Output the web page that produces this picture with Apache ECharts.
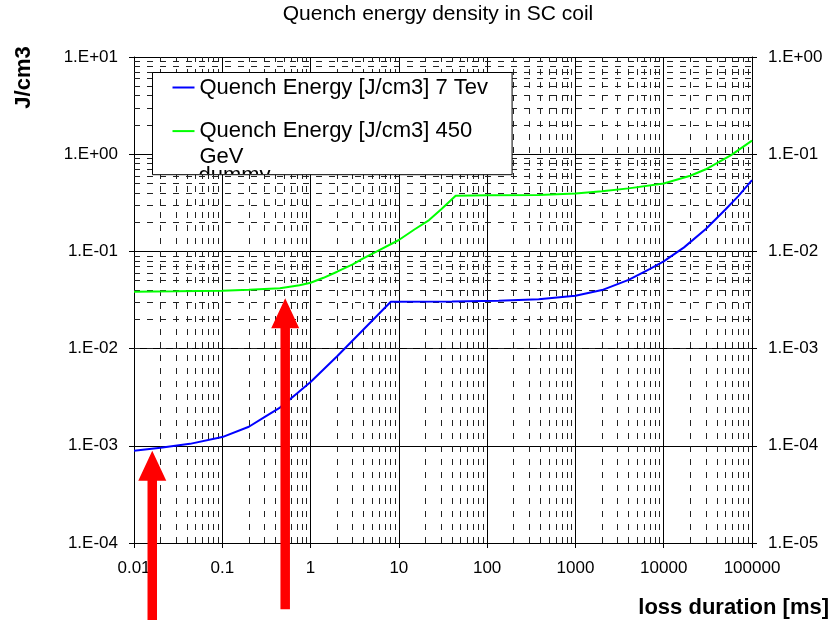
<!DOCTYPE html>
<html><head><meta charset="utf-8">
<script src="https://cdn.jsdelivr.net/npm/echarts@6/dist/echarts.min.js"></script>
<style>html,body{margin:0;padding:0;background:#fff}#c{width:832px;height:620px}</style>
</head><body><div id="c"></div>
<script>
// ---- data ----
const seriesNames = ['Quench Energy [J/cm3] 7 Tev', 'Quench Energy [J/cm3] 450 GeV', 'dummy'];
const blueX = [0.01, 0.02, 0.043, 0.1, 0.2, 0.3, 0.45, 0.7, 1, 2, 4, 8.1, 40, 135, 384, 1000, 2000, 4000, 7000, 10000, 17000, 30000, 50000, 70000, 100000];
const blueY = [8.9e-4, 9.55e-4, 1.047e-3, 1.23e-3, 1.57e-3, 1.97e-3, 2.47e-3, 3.45e-3, 4.53e-3, 8.34e-3, 1.58e-2, 3.03e-2, 3.05e-2, 3.11e-2, 3.21e-2, 3.5e-2, 4.0e-2, 5.1e-2, 6.6e-2, 7.9e-2, 0.110, 0.170, 0.27, 0.37, 0.54];
const greenX = [0.01, 0.03, 0.1, 0.2, 0.45, 0.75, 1, 1.4, 2, 3, 3.9, 5.5, 10, 15, 22, 30, 44, 100, 384, 1000, 2000, 4000, 10000, 20000, 30000, 58000, 100000];
const greenY = [0.0385, 0.0388, 0.0394, 0.0402, 0.0417, 0.0448, 0.0476, 0.0535, 0.0618, 0.0735, 0.0843, 0.099, 0.131, 0.168, 0.21, 0.27, 0.374, 0.378, 0.38, 0.395, 0.415, 0.445, 0.50, 0.60, 0.70, 0.98, 1.38];
const xTickValues = [0.01, 0.1, 1, 10, 100, 1000, 10000, 100000];
const xTickLabels = ['0.01', '0.1', '1', '10', '100', '1000', '10000', '100000'];
const yLeftTickValues = [1e-4, 1e-3, 1e-2, 1e-1, 1, 10];
const yLeftTickLabels = ['1.E-04', '1.E-03', '1.E-02', '1.E-01', '1.E+00', '1.E+01'];
const yRightTickValues = [1e-5, 1e-4, 1e-3, 1e-2, 1e-1, 1];
const yRightTickLabels = ['1.E-05', '1.E-04', '1.E-03', '1.E-02', '1.E-01', '1.E+00'];
const minorSteps = [2, 3, 4, 5, 6, 7, 8, 9];
const arrowTips = [[0.0161, 8.9e-4], [0.516, 0.033]];
const titleText = 'Quench energy density in SC coil';
const xName = 'loss duration [ms]';
const yName = 'J/cm3';

// ---- helpers ----
const FONT = '"Liberation Sans", Arial, sans-serif';
function labeler(values, labels) {
  return function (v) {
    const i = values.findIndex(t => Math.abs(Math.log10(t) - Math.log10(v)) < 1e-6);
    return i >= 0 ? labels[i] : '';
  };
}
function zip(xs, ys) { return xs.map((x, i) => [x, ys[i]]); }
const xMinor = [];
xTickValues.slice(0, -1).forEach(d => minorSteps.forEach(m => xMinor.push(d * m)));
const yMinor = [];
yLeftTickValues.slice(0, -1).forEach(d => minorSteps.forEach(m => yMinor.push(d * m)));

// legend box geometry (pixels)
const LEG = {left: 152.5, top: 72.5, padL: 19, padR: 24, padT: 4, padB: 7, itemW: 22};

const chart = echarts.init(document.getElementById('c'), null, {renderer: 'canvas'});
const option = {
  animation: false,
  backgroundColor: '#fff',
  title: {
    text: titleText, left: 438, top: 4, textAlign: 'center', padding: 0,
    textStyle: {fontSize: 21, fontWeight: 'normal', color: '#000', fontFamily: FONT}
  },
  grid: {left: 134, top: 57, right: 78, bottom: 77, containLabel: false},
  legend: {
    orient: 'vertical',
    left: LEG.left, top: LEG.top,
    padding: [LEG.padT, LEG.padR, LEG.padB, LEG.padL],
    itemWidth: LEG.itemW, itemHeight: 14, itemGap: 21.1,
    backgroundColor: '#fff', borderColor: '#000', borderWidth: 1, borderRadius: 0,
    selectedMode: false,
    itemStyle: {opacity: 0},
    data: [seriesNames[0], seriesNames[1]],
    formatter: function (name) {
      if (name === seriesNames[1]) {
        const k = name.lastIndexOf(' ');
        return '{a|' + name.slice(0, k) + '}\n{b|' + name.slice(k + 1) + '}';
      }
      return name;
    },
    textStyle: {
      fontSize: 22, color: '#000', fontFamily: FONT,
      rich: {
        a: {fontSize: 22, color: '#000', fontFamily: FONT, lineHeight: 30.2},
        b: {fontSize: 22, color: '#000', fontFamily: FONT, lineHeight: 1, verticalAlign: 'top'}
      }
    }
  },
  xAxis: {
    type: 'log', logBase: 10, min: 0.01, max: 100000,
    name: xName, nameLocation: 'end', nameGap: 77, nameMoveOverlap: false,
    nameTextStyle: {fontSize: 22, fontWeight: 'bold', color: '#000', fontFamily: FONT, align: 'right', verticalAlign: 'top', padding: [54, 0, 0, 0]},
    axisLine: {show: true, lineStyle: {color: '#000', width: 1}},
    axisTick: {show: true, inside: false, length: 5, lineStyle: {color: '#000', width: 1}},
    axisLabel: {formatter: labeler(xTickValues, xTickLabels), color: '#000', fontSize: 17, fontFamily: FONT, margin: 17},
    splitLine: {show: true, lineStyle: {color: '#000', width: 1}},
    minorTick: {show: false}, minorSplitLine: {show: false}
  },
  yAxis: [{
    type: 'log', logBase: 10, min: 1e-4, max: 10, position: 'left',
    axisLine: {show: true, lineStyle: {color: '#000', width: 1}},
    axisTick: {show: true, inside: false, length: 5, lineStyle: {color: '#000', width: 1}},
    axisLabel: {formatter: labeler(yLeftTickValues, yLeftTickLabels), color: '#000', fontSize: 17, fontFamily: FONT, margin: 16},
    splitLine: {show: true, lineStyle: {color: '#000', width: 1}}
  }, {
    type: 'log', logBase: 10, min: 1e-5, max: 1, position: 'right',
    axisLine: {show: true, lineStyle: {color: '#000', width: 1}},
    axisTick: {show: true, inside: false, length: 5, lineStyle: {color: '#000', width: 1}},
    axisLabel: {formatter: labeler(yRightTickValues, yRightTickLabels), color: '#000', fontSize: 17, fontFamily: FONT, margin: 16},
    splitLine: {show: false}
  }, {
    // carries the y-axis title, offset to the far left like the reference
    type: 'log', logBase: 10, min: 1e-4, max: 10, position: 'left', offset: 110,
    name: yName, nameLocation: 'end', nameGap: -20.5, nameRotate: 90, nameMoveOverlap: false,
    nameTextStyle: {fontSize: 22, fontWeight: 'bold', color: '#000', fontFamily: FONT, align: 'center', verticalAlign: 'middle'},
    axisLine: {show: false}, axisTick: {show: false}, axisLabel: {show: false}, splitLine: {show: false}
  }],
  series: [{
    name: 'minor gridlines', type: 'line', data: [], symbol: 'none', z: 1, silent: true,
    lineStyle: {color: '#444', width: 1},
    markLine: {
      silent: true, symbol: ['none', 'none'], animation: false, z: 1,
      label: {show: false},
      emphasis: {disabled: true},
      lineStyle: {color: '#222', width: 1, type: [6, 7]},
      data: xMinor.map(v => ({xAxis: v})).concat(yMinor.map(v => ({yAxis: v})))
    }
  }, {
    name: seriesNames[0], type: 'line', data: zip(blueX, blueY), symbol: 'none', z: 3,
    lineStyle: {color: '#0000FF', width: 2}, itemStyle: {color: '#0000FF'}
  }, {
    name: seriesNames[1], type: 'line', data: zip(greenX, greenY), symbol: 'none', z: 3,
    lineStyle: {color: '#00FF00', width: 2}, itemStyle: {color: '#00FF00'}
  }, {
    // third (empty) series of the original: its legend label is cut off by the legend box
    name: seriesNames[2], type: 'custom', coordinateSystem: 'none', z: 6, silent: true, clip: false,
    data: [[0]],
    renderItem: function () {
      return {
        type: 'text', silent: true,
        style: {
          text: seriesNames[2], x: LEG.left + LEG.padL + LEG.itemW + 5, y: 175.5,
          fill: '#000', font: '22px ' + FONT, align: 'left', verticalAlign: 'middle'
        },
        clipPath: {type: 'rect', shape: {x: LEG.left, y: LEG.top, width: 360, height: 101.5}}
      };
    }
  }]
};
chart.setOption(option);

// red arrow annotations anchored at data points
const arrowLens = [180, 311];
const graphics = arrowTips.map((tip, i) => {
  const p = chart.convertToPixel({xAxisIndex: 0, yAxisIndex: 0}, tip);
  const tx = p[0], ty = p[1];
  const headH = 30, headW = 14, shaftW = 4.75, L = arrowLens[i];
  return {
    type: 'polygon', z: 100, silent: true,
    shape: {points: [[tx, ty], [tx + headW, ty + headH], [tx + shaftW, ty + headH], [tx + shaftW, ty + L], [tx - shaftW, ty + L], [tx - shaftW, ty + headH], [tx - headW, ty + headH]]},
    style: {fill: '#FF0000', stroke: null}
  };
});
chart.setOption({graphic: graphics});
</script></body></html>
